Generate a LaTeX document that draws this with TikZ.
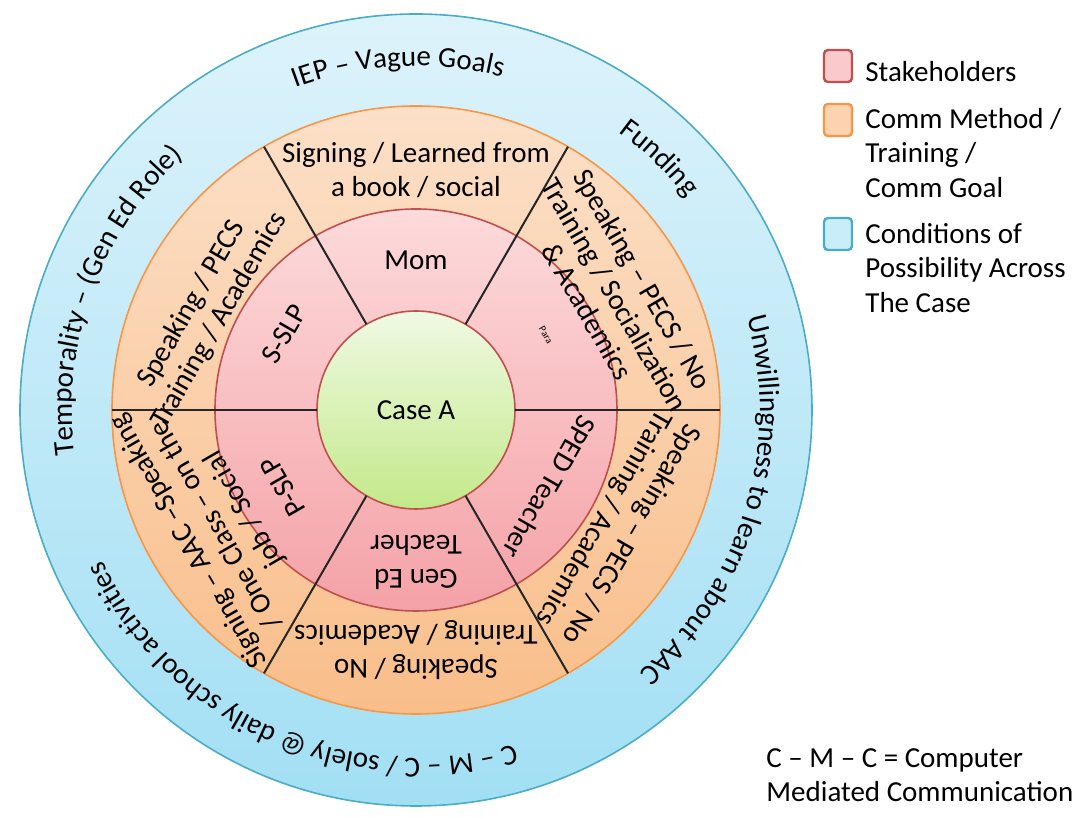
\documentclass[tikz,border=0pt]{standalone}
\usepackage{fontspec}
\setmainfont{Carlito}
\usepackage{xcolor}
\usepackage{tikz}
\usetikzlibrary{shapes.geometric, decorations.text}
\definecolor{condtop}{HTML}{DDF3FB}
\definecolor{condbot}{HTML}{A2DFF4}
\definecolor{condline}{HTML}{4BACC6}
\definecolor{commtop}{HTML}{FCE0C8}
\definecolor{commbot}{HTML}{F9BE8A}
\definecolor{commline}{HTML}{F79646}
\definecolor{staketop}{HTML}{FDDADB}
\definecolor{stakebot}{HTML}{F4A2A7}
\definecolor{stakeline}{HTML}{C0504D}
\definecolor{casetop}{HTML}{F0F9E3}
\definecolor{casebot}{HTML}{C3E98A}
\definecolor{stakekey}{HTML}{F9C9CB}
\definecolor{commkey}{HTML}{FBD3B0}
\definecolor{condkey}{HTML}{C9EEFA}
\newcommand{\ringfont}{\fontsize{14.5}{17}\selectfont}
\tikzstyle{ring} = [circle, inner sep=0pt, outer sep=0pt, line width=0.8pt]
\tikzstyle{stake} = [text centered, inner sep=0pt, font=\ringfont]
\tikzstyle{method} = [align=center, inner sep=0pt, font=\fontsize{14.5}{16}\selectfont]
\tikzstyle{divider} = [line width=1pt, black!85]
\tikzstyle{key} = [rectangle, rounded corners=2pt, minimum width=14pt, minimum height=16pt, line width=1.2pt]
\tikzstyle{keytext} = [align=left, inner sep=0pt, anchor=west, font=\fontsize{14.5}{17.25}\selectfont]
\tikzstyle{curved} = [decorate, decoration={text along path, text align=center}]

\begin{document}
\begin{tikzpicture}
	\useasboundingbox (-208pt,-203.5pt) rectangle (333.5pt,205pt);
	
	\node (cond) [ring, draw=condline, top color=condtop, bottom color=condbot, minimum size=396pt] at (0,0) {};
	\node (comm) [ring, draw=commline, top color=commtop, bottom color=commbot, minimum size=304pt] at (0,0) {};
	\node (stake) [ring, draw=stakeline, top color=staketop, bottom color=stakebot, minimum size=201pt] at (0,0) {};
	\node (case) [ring, draw=stakeline, top color=casetop, bottom color=casebot, minimum size=99pt, font=\ringfont] at (0,0) {Case A};
	
	\foreach \a in {0,60,...,300}
		\draw [divider] (case.\a) -- (comm.\a);
	
	\node (mom) [stake] at (90:75pt) {Mom};
	\node (para) [stake, font=\fontsize{5}{6}\selectfont, rotate=-60] at (30:75pt) {Para};
	\node (sped) [stake, rotate=240] at (330:77pt) {SPED Teacher};
	\node (gened) [stake, align=center, rotate=180] at (270:76pt) {Gen Ed\\Teacher};
	\node (pslp) [stake, rotate=120] at (210:77pt) {P-SLP};
	\node (sslp) [stake, rotate=60] at (150:76pt) {S-SLP};
	
	\node (m1) [method, font=\fontsize{14.5}{17}\selectfont] at (90:120pt) {Signing / Learned from\\a book / social};
	\node (m2) [method, rotate=-60] at (30:115pt) {Speaking – PECS / No\\Training / Socialization\\\& Academics};
	\node (m3) [method, rotate=240] at (330:116pt) {Speaking – PECS / No\\Training / Academics};
	\node (m4) [method, font=\fontsize{14.5}{17}\selectfont, rotate=180] at (270:120pt) {Speaking / No\\Training / Academics};
	\node (m5) [method, rotate=120] at (210:115pt) {Signing – AAC –Speaking\\/ One Class – on the\\job / Social};
	\node (m6) [method, rotate=60] at (155:116pt) {Speaking / PECS\\Training / Academics};
	
	\path [curved, decoration={text={|\ringfont|IEP – Vague Goals}}] (133:172pt) arc [start angle=133, end angle=53, radius=172pt];
	\path [curved, decoration={text={|\ringfont|Funding}}] (76:172pt) arc [start angle=76, end angle=16, radius=172pt];
	\path [curved, decoration={text={|\ringfont|Unwillingness to learn about AAC}}] (43:172pt) arc [start angle=43, end angle=-77, radius=172pt];
	\path [curved, decoration={text={|\ringfont|C – M – C / solely @ daily school activities}}] (-54:174pt) arc [start angle=-54, end angle=-174, radius=174pt];
	\path [curved, decoration={text={|\ringfont|Temporality – (Gen Ed Role)}}] (215:172pt) arc [start angle=215, end angle=105, radius=172pt];
	
	\node (kstake) [key, draw=stakeline, fill=stakekey] at (211pt,172pt) {};
	\node (kcomm) [key, draw=commline, fill=commkey] at (211pt,145pt) {};
	\node (kcond) [key, draw=condline, fill=condkey] at (211pt,88pt) {};
	\node (tstake) [keytext] at (224.5pt,169pt) {Stakeholders};
	\node (tcomm) [keytext] at (224.5pt,128.5pt) {Comm Method /\\Training /\\Comm Goal};
	\node (tcond) [keytext] at (224.5pt,71pt) {Conditions of\\Possibility Across\\The Case};
	
	\node (note) [keytext] at (175pt,-182.5pt) {C – M – C = Computer\\Mediated Communication};
	
\end{tikzpicture}
\end{document}
